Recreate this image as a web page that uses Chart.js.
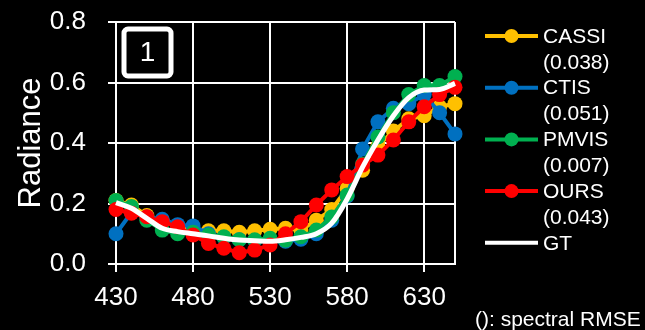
<!DOCTYPE html>
<html>
<head>
<meta charset="utf-8">
<script src="https://cdn.jsdelivr.net/npm/chart.js@4"></script>
<style>
  html, body { margin: 0; padding: 0; background: #000; }
  #wrap { width: 645px; height: 330px; position: relative; }
</style>
</head>
<body>
<div id="wrap"><canvas id="chart" width="645" height="330"></canvas></div>
<script>
// wavelengths (nm)
const wavelengths = [430, 440, 450, 460, 470, 480, 490, 500, 510, 520, 530, 540,
                     550, 560, 570, 580, 590, 600, 610, 620, 630, 640, 650];

const cassi = [0.21, 0.195, 0.16, 0.14, 0.125, 0.115, 0.11, 0.11, 0.105, 0.11, 0.115, 0.118,
               0.112, 0.145, 0.18, 0.25, 0.31, 0.39, 0.44, 0.48, 0.49, 0.52, 0.53];
const ctis = [0.10, 0.17, 0.155, 0.148, 0.13, 0.126, 0.10, 0.088, 0.08, 0.078, 0.08, 0.075,
              0.082, 0.10, 0.145, 0.225, 0.38, 0.47, 0.515, 0.53, 0.56, 0.50, 0.43];
const pmvis = [0.21, 0.19, 0.145, 0.112, 0.10, 0.105, 0.096, 0.09, 0.08, 0.08, 0.085, 0.079,
               0.09, 0.112, 0.155, 0.228, 0.33, 0.42, 0.50, 0.56, 0.59, 0.59, 0.62];
const ours = [0.18, 0.168, 0.156, 0.14, 0.123, 0.096, 0.068, 0.052, 0.037, 0.046, 0.063, 0.10,
              0.14, 0.195, 0.245, 0.289, 0.327, 0.36, 0.41, 0.47, 0.52, 0.56, 0.584];
const gt = [0.203, 0.184, 0.151, 0.118, 0.107, 0.10, 0.093, 0.085, 0.079, 0.077, 0.075, 0.08,
            0.088, 0.10, 0.135, 0.215, 0.32, 0.41, 0.49, 0.55, 0.575, 0.577, 0.597];

const xTicks = [430, 480, 530, 580, 630];
const seriesNames = ["CASSI", "CTIS", "PMVIS", "OURS", "GT"];
const rmse = ["(0.038)", "(0.051)", "(0.007)", "(0.043)", null];
const seriesColors = ["#FFC000", "#0070C0", "#00B050", "#FF0000", "#FFFFFF"];
const panelLabel = "1";
const footNote = "(): spectral RMSE";

const FONT = "'Liberation Sans', Arial, sans-serif";

const toPoints = arr => wavelengths.map((w, i) => ({ x: w, y: arr[i] }));

const makeSet = (idx, values, order) => ({
    label: seriesNames[idx],
    data: toPoints(values),
    borderColor: seriesColors[idx],
    backgroundColor: seriesColors[idx],
    borderWidth: 4,
    pointRadius: 7.5,
    pointBorderWidth: 0,
    pointHoverRadius: 7.5,
    tension: 0,
    clip: false,
    order: order
});

// ground truth: smooth white curve, no markers
const gtSet = Object.assign(makeSet(4, gt, 0), {
    borderWidth: 5,
    pointRadius: 0,
    pointHoverRadius: 0,
    cubicInterpolationMode: "monotone"
});

// legend + panel tag, drawn by hand
const extrasPlugin = {
    id: "extras",
    afterDraw(chart) {
        const ctx = chart.ctx;
        const area = chart.chartArea;
        ctx.save();

        // panel label box
        ctx.strokeStyle = "#fff";
        ctx.lineWidth = 5;
        ctx.beginPath();
        ctx.roundRect(area.left + 8, area.top + 7, 47, 47, 4);
        ctx.stroke();
        ctx.fillStyle = "#fff";
        ctx.font = "28px " + FONT;
        ctx.textAlign = "center";
        ctx.textBaseline = "middle";
        ctx.fillText(panelLabel, area.left + 31.5, area.top + 31);

        // legend
        ctx.font = "21px " + FONT;
        ctx.textAlign = "left";
        let y = 36;
        seriesNames.forEach((name, i) => {
            ctx.strokeStyle = seriesColors[i];
            ctx.lineWidth = 4;
            ctx.beginPath();
            ctx.moveTo(485, y);
            ctx.lineTo(538, y);
            ctx.stroke();
            if (rmse[i] !== null) {
                ctx.fillStyle = seriesColors[i];
                ctx.beginPath();
                ctx.arc(511.5, y, 7, 0, Math.PI * 2);
                ctx.fill();
            }
            ctx.fillStyle = "#fff";
            ctx.fillText(name, 543, y + 1);
            if (rmse[i] !== null) {
                ctx.fillText(rmse[i], 543, y + 27);
            }
            y += 51.7;
        });

        ctx.fillText(footNote, 475, 320);
        ctx.restore();
    }
};

new Chart(document.getElementById("chart"), {
    type: "line",
    data: {
        datasets: [
            gtSet,
            makeSet(3, ours, 1),
            makeSet(2, pmvis, 2),
            makeSet(1, ctis, 3),
            makeSet(0, cassi, 4)
        ]
    },
    options: {
        responsive: false,
        animation: false,
        layout: { padding: { left: 0, right: 190, top: 22, bottom: 0 } },
        plugins: {
            legend: { display: false },
            tooltip: { enabled: false }
        },
        scales: {
            x: {
                type: "linear",
                min: 430,
                max: 650,
                afterBuildTicks: scale => {
                    scale.ticks = xTicks.concat([650]).map(v => ({ value: v }));
                },
                afterFit: scale => { scale.height = 66; },
                ticks: {
                    color: "#fff",
                    font: { size: 26, family: FONT },
                    padding: 10,
                    maxRotation: 0,
                    autoSkip: false,
                    callback: v => (xTicks.includes(v) ? String(v) : "")
                },
                grid: {
                    color: "#fff",
                    lineWidth: 2,
                    tickLength: 8,
                    tickColor: c => (c.tick && c.tick.value === 650 ? "rgba(0,0,0,0)" : "#fff")
                },
                border: { color: "#fff", width: 2 }
            },
            y: {
                min: 0,
                max: 0.8,
                afterFit: scale => {
                    scale.width = 116;
                    scale.paddingTop = 0;
                    scale.paddingBottom = 0;
                },
                ticks: {
                    stepSize: 0.2,
                    color: "#fff",
                    font: { size: 26, family: FONT, lineHeight: 0.6 },
                    padding: 22,
                    callback: v => v.toFixed(1)
                },
                grid: { color: "#fff", lineWidth: 2, tickLength: 8, tickColor: "#fff" },
                border: { color: "#fff", width: 2 },
                title: {
                    display: true,
                    text: "Radiance",
                    color: "#fff",
                    font: { size: 31, family: FONT },
                    padding: { top: 13, bottom: 0 }
                }
            }
        }
    },
    plugins: [extrasPlugin]
});
</script>
</body>
</html>
